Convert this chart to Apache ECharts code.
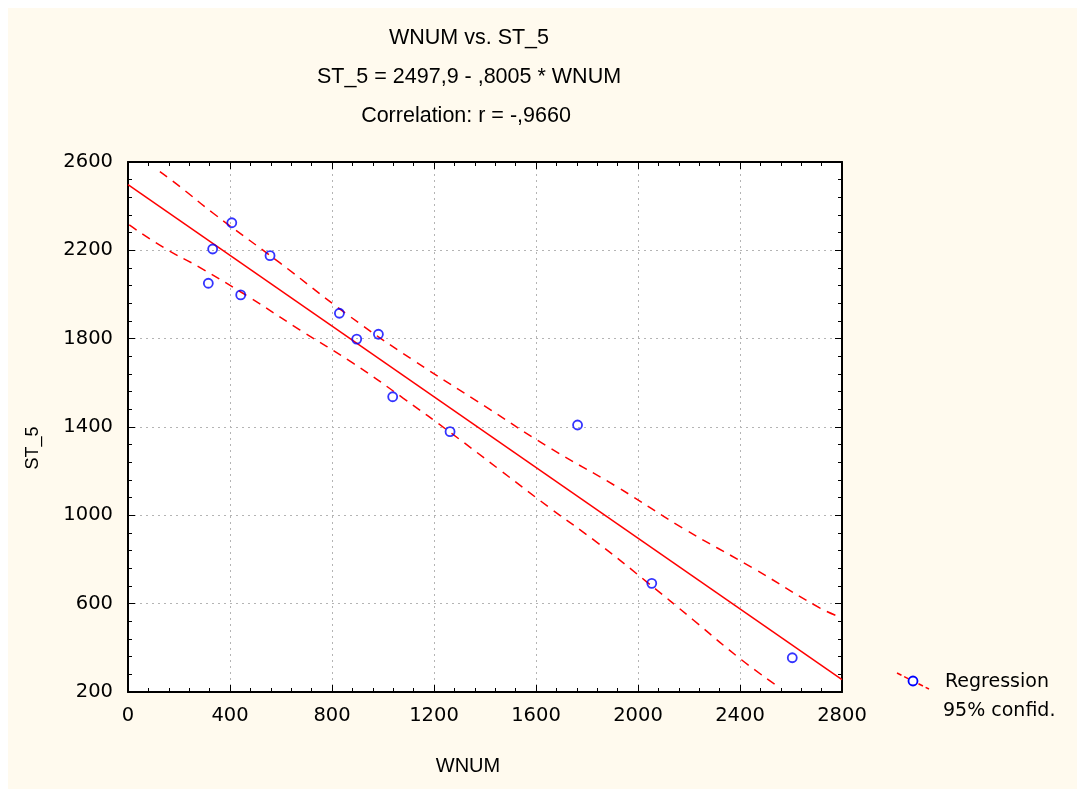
<!DOCTYPE html>
<html>
<head>
<meta charset="utf-8">
<script src="https://cdn.jsdelivr.net/npm/echarts@6/dist/echarts.min.js"></script>
<style>
html,body{margin:0;padding:0;background:#ffffff;}
#chart{width:1077px;height:789px;}
</style>
</head>
<body>
<div id="chart"></div>
<script>
// Observed data: WNUM (x) vs ST_5 (y)
const wnum = [407, 332, 557, 315, 442, 829, 897, 982, 1038, 1263, 1763, 2054, 2605];
const st5  = [2325, 2206, 2176, 2051, 1998, 1915, 1798, 1820, 1537, 1379, 1409, 692, 355];

// Regression line endpoints (ST_5 = 2497.9 - 0.8005 * WNUM)
const regX = [0, 2800];
const regY = [2497.9, 256.5];

// 95% confidence band
const upperX = [125, 204, 333, 596, 863, 1118, 1373, 1655, 1916, 2176, 2451, 2714, 2790];
const upperY = [2556, 2488, 2369, 2143, 1907, 1703, 1514, 1305, 1130, 942, 761, 580, 541];
const lowerX = [5, 145, 276, 472, 675, 884, 1080, 1269, 1459, 1648, 1844, 2034, 2217, 2407, 2555];
const lowerY = [2315, 2209, 2126, 1990, 1839, 1688, 1530, 1371, 1205, 1039, 873, 699, 526, 345, 220];

const xTicks = [0, 400, 800, 1200, 1600, 2000, 2400, 2800];
const yTicks = [200, 600, 1000, 1400, 1800, 2200, 2600];

const titleLines = ["WNUM vs. ST_5", "ST_5 = 2497,9 - ,8005 * WNUM", "Correlation: r = -,9660"];
const legendLabels = ["Regression", "95% confid."];
const xName = "WNUM";
const yName = "ST_5";

const zip = (a, b) => a.map((v, i) => [v, b[i]]);

const FONT = '"Liberation Sans", Arial, sans-serif';
const TICKFONT = '"DejaVu Sans", sans-serif';
const chart = echarts.init(document.getElementById('chart'), null, {renderer: 'canvas'});

const gridBox = {left: 128, top: 162, right: 1077 - 842, bottom: 789 - 692};

const tickStyle = {show: true, inside: true, length: 7, lineStyle: {color: '#000', width: 1}};
const minorStyle = {show: true, splitNumber: 5, length: 4, lineStyle: {color: '#000', width: 1}};
const axisLine = {show: true, onZero: false, lineStyle: {color: '#000', width: 2}};

const titleText = (txt, x, y) => ({type: 'text', x: x, y: y,
  style: {text: txt, font: '21.5px ' + FONT, fill: '#000', textAlign: 'center', textVerticalAlign: 'middle'}});

chart.setOption({
  animation: false,
  backgroundColor: '#ffffff',
  graphic: [
    {type: 'rect', z: -10, shape: {x: 8, y: 8, width: 1069, height: 781}, style: {fill: '#fffaee'}},
    titleText(titleLines[0], 469, 38),
    titleText(titleLines[1], 469, 77),
    titleText(titleLines[2], 466, 116),
    {type: 'text', x: 468, y: 766, style: {text: xName, font: '20px ' + FONT, fill: '#000', textAlign: 'center', textVerticalAlign: 'middle'}},
    {type: 'text', x: 33, y: 448, rotation: Math.PI / 2, style: {text: yName, font: '18px ' + FONT, fill: '#000', textAlign: 'center', textVerticalAlign: 'middle'}},
    {type: 'line', shape: {x1: 897, y1: 673, x2: 929, y2: 689}, style: {stroke: '#ff0000', lineWidth: 1.5, lineDash: [5, 3]}},
    {type: 'circle', shape: {cx: 913, cy: 681, r: 4.5}, style: {fill: '#ffffff', stroke: '#0000ff', lineWidth: 1.8}},
    {type: 'text', x: 945, y: 682, style: {text: legendLabels[0], font: '19px ' + TICKFONT, fill: '#000', textVerticalAlign: 'middle'}},
    {type: 'text', x: 943, y: 711, style: {text: legendLabels[1], font: '19px ' + TICKFONT, fill: '#000', textVerticalAlign: 'middle'}}
  ],
  grid: Object.assign({containLabel: false, show: true, backgroundColor: '#ffffff', borderWidth: 0}, gridBox),
  xAxis: [
    {
      type: 'value', min: 0, max: 2800, interval: 400, position: 'bottom',
      axisLine: axisLine, axisTick: tickStyle, minorTick: minorStyle,
      axisLabel: {fontFamily: TICKFONT, fontSize: 19.5, color: '#000', margin: 14,
        formatter: v => xTicks.includes(v) ? String(v) : ''},
      splitLine: {show: true, lineStyle: {color: '#b4b4b4', type: [2, 4], width: 1}}
    },
    {
      type: 'value', min: 0, max: 2800, interval: 400, position: 'top',
      axisLine: axisLine, axisTick: tickStyle, minorTick: minorStyle,
      axisLabel: {show: false}, splitLine: {show: false}
    }
  ],
  yAxis: [
    {
      type: 'value', min: 200, max: 2600, interval: 400, position: 'left',
      axisLine: axisLine, axisTick: tickStyle, minorTick: minorStyle,
      axisLabel: {fontFamily: TICKFONT, fontSize: 19.5, color: '#000', margin: 15,
        formatter: v => yTicks.includes(v) ? String(v) : ''},
      splitLine: {show: true, lineStyle: {color: '#b4b4b4', type: [2, 4], width: 1}}
    },
    {
      type: 'value', min: 200, max: 2600, interval: 400, position: 'right',
      axisLine: axisLine, axisTick: tickStyle, minorTick: minorStyle,
      axisLabel: {show: false}, splitLine: {show: false}
    }
  ],
  series: [
    {
      type: 'line', data: zip(regX, regY), showSymbol: false, symbol: 'none',
      lineStyle: {color: '#ff0000', width: 1.5}, z: 3
    },
    {
      type: 'line', data: zip(upperX, upperY), smooth: true, symbol: 'none',
      lineStyle: {color: '#ff0000', width: 1.5, type: [9, 7]}, z: 3
    },
    {
      type: 'line', data: zip(lowerX, lowerY), smooth: true, symbol: 'none',
      lineStyle: {color: '#ff0000', width: 1.5, type: [9, 7]}, z: 3
    },
    {
      type: 'scatter', data: zip(wnum, st5), symbol: 'circle', symbolSize: 9,
      itemStyle: {color: 'rgba(255,255,255,0)', borderColor: '#0000ff', borderWidth: 1.8}, z: 5
    }
  ]
});
</script>
</body>
</html>
